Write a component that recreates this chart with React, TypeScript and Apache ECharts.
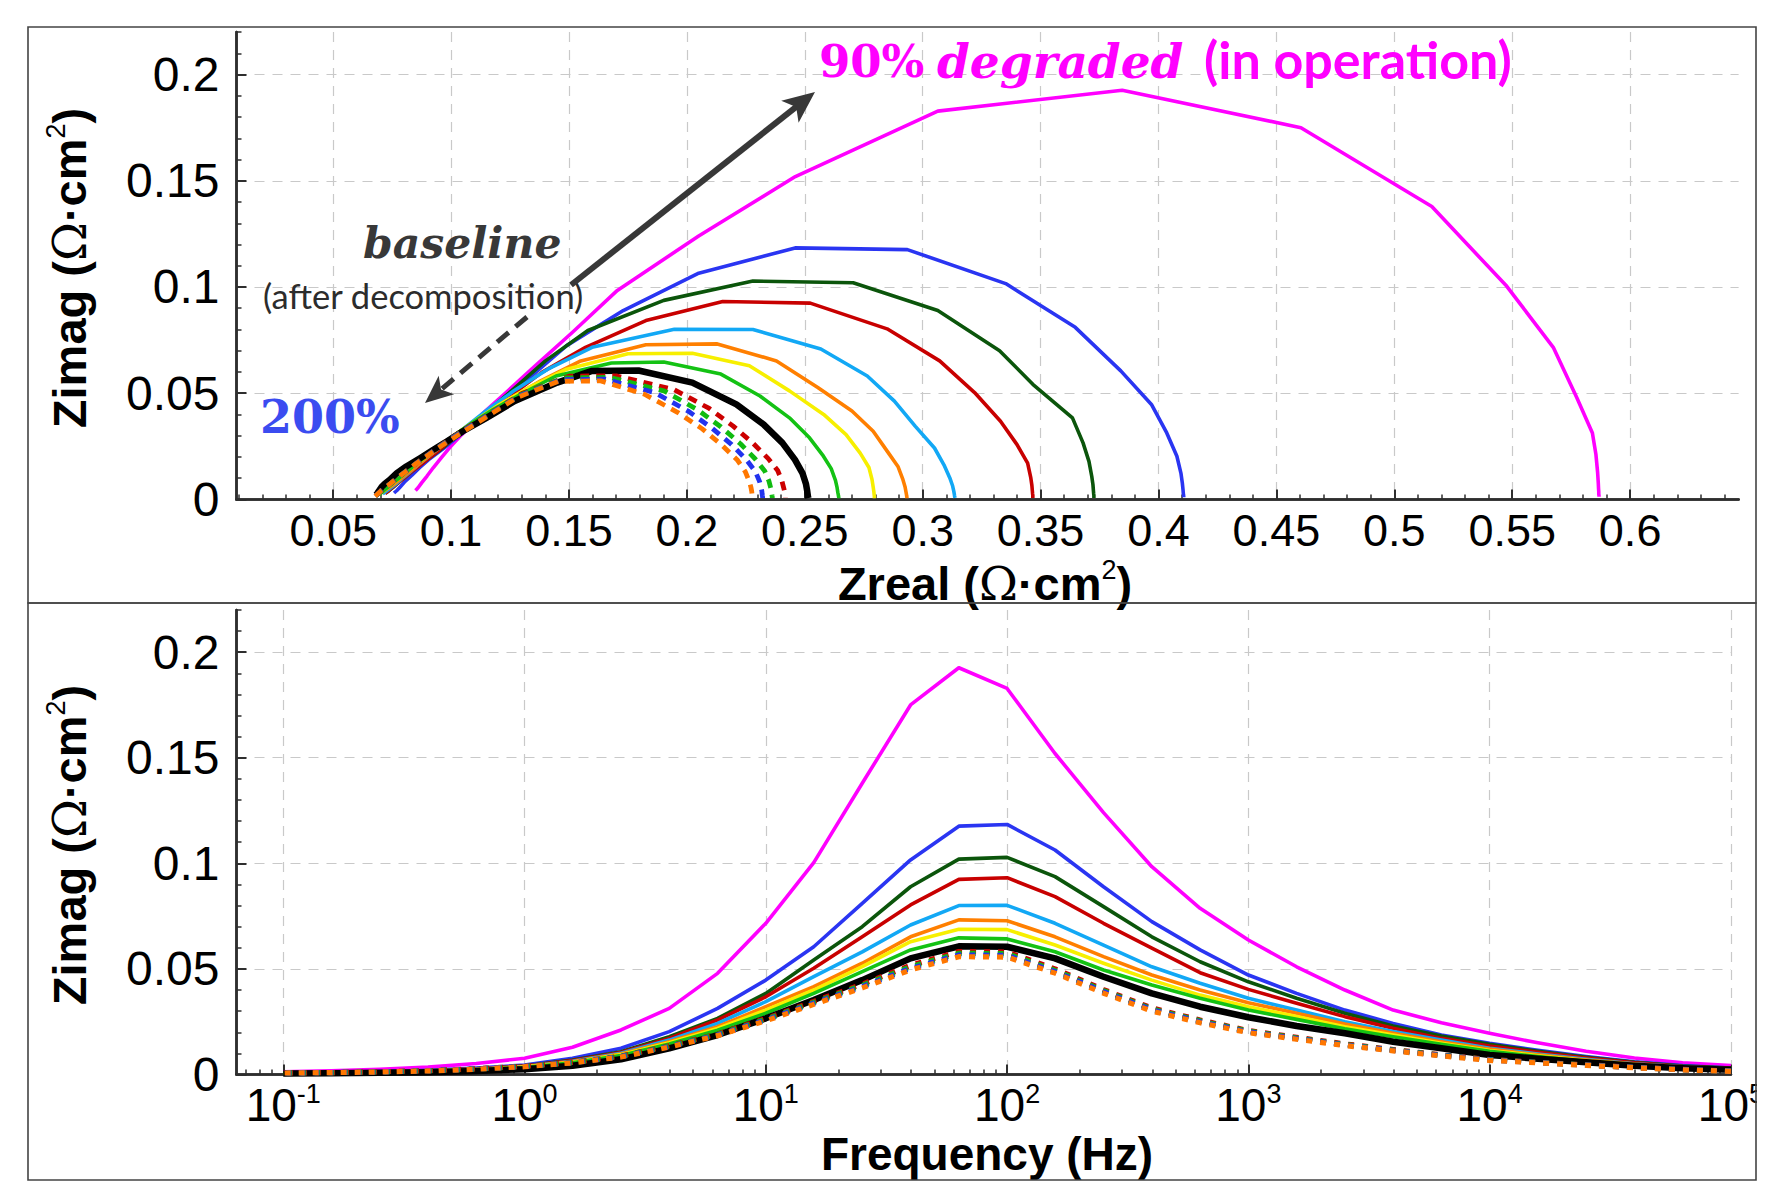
import React, { useEffect, useRef } from "react";
import * as echarts from "echarts";

// Frequencies (Hz), high to low, 5 points per decade
const FREQ = [100000, 63096, 39811, 25119, 15849, 10000, 6310, 3981, 2512, 1585, 1000, 631, 398, 251, 158, 100, 63.1, 39.8, 25.1, 15.8, 10, 6.31, 3.98, 2.51, 1.58, 1, 0.631, 0.398, 0.251, 0.158, 0.1];

// 90% degraded (magenta)
const ZR_MAGENTA = [0.0849, 0.086, 0.0875, 0.0898, 0.0925, 0.0958, 0.0995, 0.1045, 0.113, 0.124, 0.1365, 0.1515, 0.1705, 0.205, 0.246, 0.3064, 0.3846, 0.4604, 0.5159, 0.5477, 0.5674, 0.5774, 0.584, 0.5855, 0.5862, 0.5865, 0.5866, 0.5867, 0.5867, 0.5868, 0.5868];
const ZI_MAGENTA = [0.0042, 0.0055, 0.0078, 0.011, 0.015, 0.0195, 0.0245, 0.0305, 0.04, 0.051, 0.0637, 0.0787, 0.0984, 0.124, 0.152, 0.1828, 0.1926, 0.175, 0.1379, 0.1003, 0.0716, 0.0479, 0.0313, 0.0211, 0.0129, 0.0077, 0.0052, 0.0035, 0.0025, 0.0018, 0.0013];
// blue
const ZR_BLUE = [0.0758, 0.077, 0.0785, 0.0805, 0.0835, 0.0865, 0.0905, 0.097, 0.104, 0.113, 0.1222, 0.135, 0.149, 0.173, 0.2046, 0.2459, 0.2935, 0.3352, 0.3647, 0.384, 0.397, 0.4035, 0.4078, 0.4095, 0.4101, 0.4104, 0.4105, 0.4106, 0.4107, 0.4107, 0.4107];
const ZI_BLUE = [0.003, 0.0042, 0.006, 0.0085, 0.0115, 0.0148, 0.0187, 0.0242, 0.0305, 0.0384, 0.0471, 0.059, 0.0724, 0.0889, 0.1063, 0.1184, 0.1176, 0.1016, 0.081, 0.0605, 0.0447, 0.0313, 0.0203, 0.0124, 0.0077, 0.0045, 0.003, 0.002, 0.0014, 0.001, 0.0008];
// dark green
const ZR_DGREEN = [0.0722, 0.0735, 0.0755, 0.078, 0.081, 0.0845, 0.089, 0.095, 0.1015, 0.1095, 0.118, 0.128, 0.14, 0.158, 0.1902, 0.228, 0.2705, 0.3064, 0.3326, 0.3467, 0.3635, 0.368, 0.3705, 0.3717, 0.3722, 0.3724, 0.3725, 0.3726, 0.3726, 0.3726, 0.3726];
const ZI_DGREEN = [0.003, 0.004, 0.0058, 0.0082, 0.011, 0.0143, 0.0182, 0.023, 0.029, 0.0361, 0.0439, 0.0534, 0.0652, 0.0795, 0.0937, 0.1028, 0.102, 0.0889, 0.07, 0.0542, 0.0384, 0.0266, 0.0179, 0.0108, 0.0069, 0.004, 0.0027, 0.0018, 0.0012, 0.0009, 0.0007];
// red
const ZR_RED = [0.072, 0.0732, 0.075, 0.0775, 0.0805, 0.0838, 0.088, 0.0935, 0.0995, 0.107, 0.1145, 0.1245, 0.1385, 0.157, 0.1826, 0.2152, 0.2523, 0.2849, 0.3072, 0.322, 0.333, 0.34, 0.3445, 0.3458, 0.3463, 0.3465, 0.3466, 0.3467, 0.3467, 0.3467, 0.3467];
const ZI_RED = [0.0028, 0.0038, 0.0055, 0.0078, 0.0105, 0.0135, 0.0171, 0.0219, 0.0274, 0.0337, 0.0403, 0.0482, 0.0598, 0.0716, 0.0842, 0.0932, 0.0924, 0.0803, 0.0652, 0.0503, 0.0368, 0.0258, 0.0171, 0.0104, 0.0066, 0.004, 0.0027, 0.0018, 0.0012, 0.0009, 0.0007];
// light blue
const ZR_LBLUE = [0.071, 0.0722, 0.074, 0.0765, 0.079, 0.082, 0.086, 0.0905, 0.0958, 0.102, 0.1085, 0.1165, 0.1265, 0.141, 0.1598, 0.1947, 0.228, 0.2568, 0.2765, 0.288, 0.2968, 0.305, 0.309, 0.3115, 0.3127, 0.3132, 0.3134, 0.3135, 0.3136, 0.3137, 0.3137];
const ZI_LBLUE = [0.0026, 0.0036, 0.0051, 0.0072, 0.0097, 0.0124, 0.0163, 0.0203, 0.025, 0.0305, 0.0361, 0.0432, 0.051, 0.0613, 0.0716, 0.0801, 0.08, 0.0708, 0.0581, 0.0463, 0.0345, 0.0242, 0.0163, 0.0101, 0.0063, 0.0038, 0.0025, 0.0017, 0.0012, 0.0009, 0.0007];
// orange
const ZR_ORANGE = [0.0695, 0.0708, 0.0728, 0.0755, 0.0782, 0.0812, 0.0852, 0.0895, 0.0945, 0.1005, 0.1068, 0.1148, 0.1245, 0.138, 0.155, 0.1826, 0.2129, 0.238, 0.2555, 0.27, 0.279, 0.285, 0.2895, 0.2915, 0.2925, 0.2929, 0.2931, 0.2932, 0.2933, 0.2933, 0.2933];
const ZI_ORANGE = [0.0025, 0.0034, 0.0049, 0.0069, 0.0093, 0.012, 0.0155, 0.0195, 0.0239, 0.029, 0.034, 0.04, 0.0471, 0.0558, 0.0652, 0.0728, 0.0732, 0.0652, 0.0527, 0.0416, 0.0321, 0.0226, 0.0155, 0.0097, 0.006, 0.0036, 0.0024, 0.0016, 0.0011, 0.0008, 0.0006];
// yellow
const ZR_YELLOW = [0.0695, 0.0705, 0.0722, 0.0742, 0.0768, 0.0795, 0.0832, 0.0875, 0.0922, 0.0978, 0.1038, 0.111, 0.1205, 0.133, 0.149, 0.175, 0.2023, 0.2265, 0.2435, 0.258, 0.2675, 0.2735, 0.2772, 0.2785, 0.279, 0.2793, 0.2794, 0.2795, 0.2795, 0.2795, 0.2795];
const ZI_YELLOW = [0.0024, 0.0033, 0.0047, 0.0066, 0.0089, 0.0114, 0.0148, 0.0187, 0.0226, 0.0274, 0.0321, 0.0376, 0.0447, 0.0527, 0.0613, 0.0686, 0.0688, 0.0629, 0.0511, 0.04, 0.0305, 0.0218, 0.015, 0.0094, 0.0058, 0.0035, 0.0023, 0.0015, 0.001, 0.0008, 0.0006];
// green
const ZR_GREEN = [0.0695, 0.0705, 0.0718, 0.0738, 0.0762, 0.079, 0.0825, 0.0865, 0.0908, 0.096, 0.1018, 0.109, 0.118, 0.1295, 0.1445, 0.168, 0.1902, 0.2144, 0.231, 0.2435, 0.252, 0.2575, 0.2612, 0.263, 0.2637, 0.264, 0.2642, 0.2643, 0.2644, 0.2644, 0.2644];
const ZI_GREEN = [0.0023, 0.0032, 0.0045, 0.0063, 0.0085, 0.011, 0.0143, 0.0179, 0.0216, 0.0261, 0.0305, 0.0361, 0.0424, 0.0495, 0.0581, 0.0642, 0.0647, 0.059, 0.0487, 0.0384, 0.029, 0.021, 0.0145, 0.009, 0.0055, 0.0033, 0.0022, 0.0015, 0.001, 0.0007, 0.0005];
// baseline (black)
const ZR_BLACK = [0.0682, 0.0688, 0.0695, 0.0705, 0.072, 0.074, 0.077, 0.081, 0.087, 0.092, 0.098, 0.105, 0.115, 0.127, 0.145, 0.1598, 0.1795, 0.2023, 0.221, 0.2325, 0.2405, 0.2458, 0.249, 0.2505, 0.251, 0.2512, 0.2513, 0.2514, 0.2515, 0.2515, 0.2515];
const ZI_BLACK = [0.0022, 0.003, 0.0042, 0.0058, 0.0075, 0.0092, 0.0124, 0.0155, 0.0195, 0.023, 0.0271, 0.0321, 0.0384, 0.0463, 0.055, 0.0605, 0.0607, 0.055, 0.0447, 0.0353, 0.0266, 0.0187, 0.0124, 0.0072, 0.0041, 0.0025, 0.0016, 0.0011, 0.0008, 0.0006, 0.0005];
// dashed red
const ZR_DRED = [0.0681, 0.0688, 0.0698, 0.0709, 0.0723, 0.0739, 0.0764, 0.0791, 0.0823, 0.0859, 0.09, 0.0961, 0.1036, 0.116, 0.1302, 0.15, 0.17, 0.1945, 0.2095, 0.2195, 0.228, 0.2345, 0.2385, 0.2403, 0.241, 0.2414, 0.2416, 0.2417, 0.2418, 0.2418, 0.2418];
const ZI_DRED = [0.0017, 0.0024, 0.0034, 0.0046, 0.0058, 0.0071, 0.0093, 0.0118, 0.0145, 0.0176, 0.0208, 0.0258, 0.0315, 0.0402, 0.05, 0.058, 0.0582, 0.0517, 0.0428, 0.0346, 0.0265, 0.0192, 0.0136, 0.0087, 0.0057, 0.0039, 0.0027, 0.0018, 0.0013, 0.0009, 0.0007];
// dashed green
const ZR_DGRN = [0.068, 0.0687, 0.0697, 0.0708, 0.0722, 0.0738, 0.0762, 0.0789, 0.082, 0.0856, 0.0896, 0.0957, 0.1032, 0.1155, 0.1295, 0.148, 0.1675, 0.1905, 0.2045, 0.2145, 0.2228, 0.229, 0.233, 0.2348, 0.2355, 0.2359, 0.236, 0.2361, 0.2362, 0.2362, 0.2362];
const ZI_DGRN = [0.0016, 0.0023, 0.0033, 0.0045, 0.0057, 0.007, 0.0091, 0.0116, 0.0142, 0.0173, 0.0205, 0.0254, 0.031, 0.0397, 0.0493, 0.0572, 0.0574, 0.051, 0.0422, 0.0341, 0.0261, 0.019, 0.0134, 0.0086, 0.0056, 0.0038, 0.0026, 0.0018, 0.0012, 0.0009, 0.0007];
// dashed blue
const ZR_DBLU = [0.0679, 0.0686, 0.0696, 0.0706, 0.0721, 0.0737, 0.076, 0.0787, 0.0818, 0.0853, 0.0893, 0.0953, 0.1028, 0.115, 0.1288, 0.147, 0.1655, 0.1865, 0.2005, 0.2105, 0.219, 0.2252, 0.229, 0.2308, 0.2315, 0.2318, 0.2319, 0.232, 0.2321, 0.2321, 0.2321];
const ZI_DBLU = [0.0016, 0.0023, 0.0033, 0.0044, 0.0056, 0.0069, 0.009, 0.0114, 0.014, 0.017, 0.0202, 0.025, 0.0306, 0.0392, 0.0487, 0.0564, 0.0566, 0.0502, 0.0416, 0.0337, 0.0258, 0.0187, 0.0132, 0.0085, 0.0056, 0.0038, 0.0026, 0.0018, 0.0012, 0.0009, 0.0007];
// dashed orange
const ZR_DORG = [0.0678, 0.0685, 0.0695, 0.0705, 0.072, 0.0735, 0.0758, 0.0785, 0.0815, 0.085, 0.089, 0.095, 0.1025, 0.1145, 0.128, 0.1455, 0.1635, 0.182, 0.196, 0.2065, 0.215, 0.2215, 0.2248, 0.2265, 0.2272, 0.2275, 0.2276, 0.2276, 0.2277, 0.2277, 0.2277];
const ZI_DORG = [0.0015, 0.0022, 0.0032, 0.0043, 0.0055, 0.0067, 0.0088, 0.0112, 0.0137, 0.0167, 0.0198, 0.0245, 0.03, 0.0385, 0.048, 0.0556, 0.0558, 0.0495, 0.041, 0.0332, 0.0254, 0.0184, 0.013, 0.0083, 0.0055, 0.0037, 0.0025, 0.0017, 0.0012, 0.0009, 0.0007];

// Axis ticks / labels
const X_TICKS_TOP = [0.05, 0.1, 0.15, 0.2, 0.25, 0.3, 0.35, 0.4, 0.45, 0.5, 0.55, 0.6];
const Y_TICKS = [0, 0.05, 0.1, 0.15, 0.2];
const LOG_TICKS = [0.1, 1, 10, 100, 1000, 10000, 100000];

const X_MINOR_TOP: number[] = [];
for (let k = 1; k <= 64; k++) if (k % 5 !== 0) X_MINOR_TOP.push(k / 100);
const Y_MINOR: number[] = [];
for (let k = 1; k <= 22; k++) if (k % 5 !== 0) Y_MINOR.push(k / 100);
const LOG_MINOR: number[] = [0.07, 0.08, 0.09];
for (let e = -1; e <= 4; e++) for (let m = 2; m <= 9; m++) LOG_MINOR.push(m * Math.pow(10, e));

const SERIES_STYLE = [
  { name: "90% degraded", color: "#ff00ff", width: 3.6, dash: null, zr: ZR_MAGENTA, zi: ZI_MAGENTA },
  { name: "blue", color: "#2a35f2", width: 3.6, dash: null, zr: ZR_BLUE, zi: ZI_BLUE },
  { name: "dark green", color: "#0b550b", width: 3.6, dash: null, zr: ZR_DGREEN, zi: ZI_DGREEN },
  { name: "red", color: "#c80000", width: 3.6, dash: null, zr: ZR_RED, zi: ZI_RED },
  { name: "light blue", color: "#12a8f5", width: 3.6, dash: null, zr: ZR_LBLUE, zi: ZI_LBLUE },
  { name: "orange", color: "#ff7f00", width: 3.6, dash: null, zr: ZR_ORANGE, zi: ZI_ORANGE },
  { name: "yellow", color: "#f7ef00", width: 3.6, dash: null, zr: ZR_YELLOW, zi: ZI_YELLOW },
  { name: "green", color: "#14c214", width: 3.6, dash: null, zr: ZR_GREEN, zi: ZI_GREEN },
  { name: "baseline", color: "#000000", width: 6.5, dash: null, zr: ZR_BLACK, zi: ZI_BLACK },
  { name: "dashed red", color: "#cc0000", width: 4.8, dash: [9, 7], zr: ZR_DRED, zi: ZI_DRED },
  { name: "dashed green", color: "#10bb10", width: 4.8, dash: [9, 7], zr: ZR_DGRN, zi: ZI_DGRN },
  { name: "dashed blue", color: "#2233ee", width: 4.8, dash: [9, 7], zr: ZR_DBLU, zi: ZI_DBLU },
  { name: "dashed orange", color: "#ff7700", width: 4.8, dash: [9, 7], zr: ZR_DORG, zi: ZI_DORG },
];

const FONT = "'Liberation Sans', Arial, Helvetica, sans-serif";
const AXIS_COLOR = "#2e2e2e";
const GRID_LINE = { show: true, lineStyle: { color: "#c9c9c9", type: [10, 8], width: 1.2 } };

function mainY(gridIndex: number) {
  return {
    gridIndex,
    type: "value",
    min: 0,
    max: 0.22,
    position: "left",
    axisLine: { show: true, onZero: false, lineStyle: { color: AXIS_COLOR, width: 2.5 } },
    axisTick: { show: true, inside: true, length: 10, customValues: Y_TICKS, lineStyle: { color: AXIS_COLOR, width: 2 } },
    axisLabel: { show: true, customValues: Y_TICKS, formatter: (v: number) => String(v), fontSize: 48, fontFamily: FONT, color: "#000", margin: 17 },
    splitLine: GRID_LINE,
  };
}
function minorY(gridIndex: number) {
  return {
    gridIndex,
    type: "value",
    min: 0,
    max: 0.22,
    position: "left",
    axisLine: { show: true, onZero: false, lineStyle: { color: AXIS_COLOR, width: 2.5 } },
    axisTick: { show: true, inside: true, length: 5, customValues: Y_MINOR, lineStyle: { color: AXIS_COLOR, width: 1.5 } },
    axisLabel: { show: false },
    splitLine: { show: false },
  };
}

const TITLE_RICH = {
  t: { fontSize: 47, fontWeight: "bold", fontFamily: FONT, fill: "#000", lineHeight: 54 },
  o: { fontSize: 47, fontWeight: "normal", fontFamily: "'DejaVu Serif', serif", fill: "#000", lineHeight: 54 },
  s: { fontSize: 27, fontWeight: "normal", fontFamily: FONT, fill: "#000", lineHeight: 30, verticalAlign: "top" },
};
const UNIT_TEXT = "{o|Ω}{t|·cm}{s|2}{t|)}";

function buildOption() {
  const series: any[] = [];
  SERIES_STYLE.forEach((s) => {
    const ls = { color: s.color, width: s.width, type: s.dash ? s.dash : "solid", cap: "butt", join: "round" };
    series.push({
      type: "line", name: s.name, xAxisIndex: 0, yAxisIndex: 0,
      data: s.zr.map((x, i) => [x, s.zi[i]]),
      showSymbol: false, symbol: "none", silent: true, emphasis: { disabled: true }, lineStyle: ls,
    });
  });
  SERIES_STYLE.forEach((s) => {
    const ls = { color: s.color, width: s.dash ? 5.2 : s.width, type: s.dash ? [6, 8] : "solid", cap: "butt", join: "round" };
    series.push({
      type: "line", name: s.name + " (f)", xAxisIndex: 2, yAxisIndex: 2,
      data: FREQ.map((f, i) => [f, s.zi[i]]),
      showSymbol: false, symbol: "none", silent: true, emphasis: { disabled: true }, lineStyle: ls,
    });
  });

  const annoGray = "#383838";
  const sTip = [815, 92], sStart = [571, 285];
  const dTip = [425, 403], dStart = [527, 317];
  function head(tip: number[], start: number[], len: number, half: number, notch: number) {
    const dx = tip[0] - start[0], dy = tip[1] - start[1];
    const L = Math.hypot(dx, dy);
    const ux = dx / L, uy = dy / L;
    const bx = tip[0] - ux * len, by = tip[1] - uy * len;
    const px = -uy, py = ux;
    return {
      pts: [tip, [bx + px * half, by + py * half], [tip[0] - ux * (len - notch), tip[1] - uy * (len - notch)], [bx - px * half, by - py * half]],
      end: [tip[0] - ux * (len - notch - 2), tip[1] - uy * (len - notch - 2)],
    };
  }
  const sh = head(sTip, sStart, 32, 14, 8);
  const dh = head(dTip, dStart, 28, 12, 7);

  const graphic: any[] = [
    { type: "rect", z: 50, silent: true, shape: { x: 28, y: 27, width: 1728, height: 576 }, style: { fill: "none", stroke: "#444", lineWidth: 1.6 } },
    { type: "rect", z: 50, silent: true, shape: { x: 28, y: 603, width: 1728, height: 577 }, style: { fill: "none", stroke: "#444", lineWidth: 1.6 } },
    { type: "rect", z: 40, silent: true, shape: { x: 1757, y: 1078, width: 12, height: 70 }, style: { fill: "#fff" } },
    { type: "text", z: 20, silent: true, x: 985, y: 583, style: { text: "{t|Zreal (}" + UNIT_TEXT, rich: TITLE_RICH, align: "center", verticalAlign: "middle", textAlign: "center", textVerticalAlign: "middle" } },
    { type: "text", z: 20, silent: true, x: 987, y: 1154, style: { text: "Frequency (Hz)", font: "bold 46px " + FONT, lineHeight: 36, fill: "#000", align: "center", verticalAlign: "middle", textAlign: "center", textVerticalAlign: "middle" } },
    { type: "text", z: 20, silent: true, x: 69, y: 268, rotation: Math.PI / 2, style: { text: "{t|Zimag (}" + UNIT_TEXT, rich: TITLE_RICH, align: "center", verticalAlign: "middle", textAlign: "center", textVerticalAlign: "middle" } },
    { type: "text", z: 20, silent: true, x: 69, y: 845, rotation: Math.PI / 2, style: { text: "{t|Zimag (}" + UNIT_TEXT, rich: TITLE_RICH, align: "center", verticalAlign: "middle", textAlign: "center", textVerticalAlign: "middle" } },
    { type: "text", z: 20, silent: true, x: 819, y: 61, style: { text: "90%", font: "bold 45px 'DejaVu Serif', serif", fill: "#ff00ff", align: "left", verticalAlign: "middle", textAlign: "left", textVerticalAlign: "middle" } },
    { type: "text", z: 20, silent: true, x: 937, y: 61, style: { text: "degraded", font: "italic bold 47px 'DejaVu Serif', serif", fill: "#ff00ff", align: "left", verticalAlign: "middle", textAlign: "left", textVerticalAlign: "middle" } },
    { type: "text", z: 20, silent: true, x: 1204, y: 59, style: { text: "(in operation)", font: "bold 52px Lato, 'Open Sans', sans-serif", fill: "#ff00ff", align: "left", verticalAlign: "middle", textAlign: "left", textVerticalAlign: "middle" } },
    { type: "text", z: 20, silent: true, x: 363, y: 243, style: { text: "baseline", font: "italic bold 42.5px 'DejaVu Serif', serif", fill: annoGray, align: "left", verticalAlign: "middle", textAlign: "left", textVerticalAlign: "middle" } },
    { type: "text", z: 20, silent: true, x: 263, y: 295, style: { text: "(after decomposition)", font: "34.5px Lato, 'Open Sans', sans-serif", fill: "#2c2c2c", align: "left", verticalAlign: "middle", textAlign: "left", textVerticalAlign: "middle" } },
    { type: "text", z: 20, silent: true, x: 260, y: 417, style: { text: "200%", font: "bold 46px 'DejaVu Serif', serif", fill: "#3b4cf0", align: "left", verticalAlign: "middle", textAlign: "left", textVerticalAlign: "middle" } },
    { type: "line", z: 20, silent: true, shape: { x1: sStart[0], y1: sStart[1], x2: sh.end[0], y2: sh.end[1] }, style: { stroke: annoGray, lineWidth: 6 } },
    { type: "polygon", z: 21, silent: true, shape: { points: sh.pts }, style: { fill: annoGray } },
    { type: "line", z: 20, silent: true, shape: { x1: dStart[0], y1: dStart[1], x2: dh.end[0], y2: dh.end[1] }, style: { stroke: annoGray, lineWidth: 5, lineDash: [15, 9] } },
    { type: "polygon", z: 21, silent: true, shape: { points: dh.pts }, style: { fill: annoGray } },
  ];

  return {
    animation: false,
    backgroundColor: "#ffffff",
    grid: [
      { left: 236.5, top: 32.1, width: 1502.1, height: 467.3 },
      { left: 236.5, top: 609.9, width: 1503.2, height: 464.6 },
    ],
    xAxis: [
      {
        gridIndex: 0, type: "value", min: 0.009, max: 0.646, position: "bottom",
        axisLine: { show: true, onZero: false, lineStyle: { color: AXIS_COLOR, width: 2.5 } },
        axisTick: { show: true, inside: true, length: 10, customValues: X_TICKS_TOP, lineStyle: { color: AXIS_COLOR, width: 2 } },
        axisLabel: { show: true, customValues: X_TICKS_TOP, formatter: (v: number) => String(v), fontSize: 45, lineHeight: 38, fontFamily: FONT, color: "#000", margin: 12 },
        splitLine: GRID_LINE,
      },
      {
        gridIndex: 0, type: "value", min: 0.009, max: 0.646, position: "bottom",
        axisLine: { show: true, onZero: false, lineStyle: { color: AXIS_COLOR, width: 2.5 } },
        axisTick: { show: true, inside: true, length: 5, customValues: X_MINOR_TOP, lineStyle: { color: AXIS_COLOR, width: 1.5 } },
        axisLabel: { show: false },
        splitLine: { show: false },
      },
      {
        gridIndex: 1, type: "log", logBase: 10, min: 0.064, max: 100000, position: "bottom",
        axisLine: { show: true, onZero: false, lineStyle: { color: AXIS_COLOR, width: 2.5 } },
        axisTick: { show: true, inside: true, length: 10, customValues: LOG_TICKS, lineStyle: { color: AXIS_COLOR, width: 2 } },
        axisLabel: {
          show: true, customValues: LOG_TICKS, margin: 6,
          formatter: (v: number) => "{b|10}{s|" + Math.round(Math.log10(v)) + "}",
          rich: {
            b: { fontSize: 46, fontFamily: FONT, color: "#000", lineHeight: 48 },
            s: { fontSize: 27, fontFamily: FONT, color: "#000", lineHeight: 26, verticalAlign: "top" },
          },
        },
        splitLine: GRID_LINE,
      },
      {
        gridIndex: 1, type: "log", logBase: 10, min: 0.064, max: 100000, position: "bottom",
        axisLine: { show: true, onZero: false, lineStyle: { color: AXIS_COLOR, width: 2.5 } },
        axisTick: { show: true, inside: true, length: 5, customValues: LOG_MINOR, lineStyle: { color: AXIS_COLOR, width: 1.5 } },
        axisLabel: { show: false },
        splitLine: { show: false },
      },
    ],
    yAxis: [mainY(0), minorY(0), mainY(1), minorY(1)],
    series,
    graphic: { elements: graphic },
  };
}

export default function App() {
  const ref = useRef<HTMLDivElement>(null);
  useEffect(() => {
    if (!ref.current) return;
    const chart = echarts.init(ref.current, undefined, { renderer: "svg" });
    chart.setOption(buildOption() as any);
    return () => chart.dispose();
  }, []);
  return <div ref={ref} style={{ position: "fixed", left: 0, top: 0, width: 1767, height: 1182, background: "#fff" }} />;
}
